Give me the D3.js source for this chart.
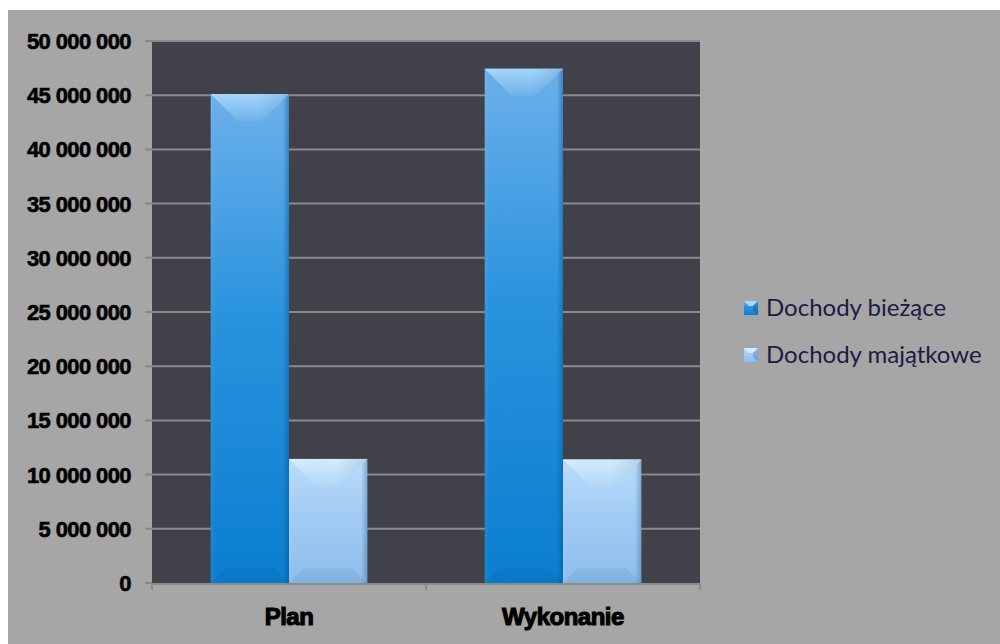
<!DOCTYPE html>
<html><head><meta charset="utf-8">
<script src="https://cdn.jsdelivr.net/npm/d3@7"></script>
<style>body{margin:0;background:#fff}svg{display:block}</style>
</head><body>
<svg id="c" width="1000" height="644"></svg>
<script>
const categories = ["Plan", "Wykonanie"];
const seriesNames = ["Dochody bieżące", "Dochody majątkowe"];
const dochodyBiezace = [45100000, 47450000];
const dochodyMajatkowe = [11450000, 11400000];
const yTicks = [0, 5000000, 10000000, 15000000, 20000000, 25000000, 30000000, 35000000, 40000000, 45000000, 50000000];

const svg = d3.select("#c");
svg.append("rect").attr("x", 8).attr("y", 10).attr("width", 992).attr("height", 634).attr("fill", "#a6a6a6");

const L = 152, R = 700, T = 41, B = 583;
const x0 = d3.scaleBand().domain(categories).range([L, R]).paddingInner(0).paddingOuter(0);
const y = d3.scaleLinear().domain([0, 50000000]).range([B, T]);
const series = [dochodyBiezace, dochodyMajatkowe];
const bw = x0.bandwidth() / 3.5;
const x1 = d3.scaleBand().domain([0, 1]).range([0, 2 * bw]);

const defs = svg.append("defs");
const palettes = [
  {top: "#6cb0ea", mid: "#2a93de", bot: "#0a7ecf", cap: ["#a8d8fc", "#70b3ea"], dark: "#05508a", light: "#ffffff"},
  {top: "#b9dbf9", mid: "#a2ccf4", bot: "#8dbdec", cap: ["#d6edfe", "#b4d8f8"], dark: "#3e6f9e", light: "#ffffff"}
];
palettes.forEach((p, i) => {
  const g = defs.append("linearGradient").attr("id", "body" + i).attr("x1", 0).attr("y1", 0).attr("x2", 0).attr("y2", 1);
  g.append("stop").attr("offset", "0%").attr("stop-color", p.top);
  g.append("stop").attr("offset", "45%").attr("stop-color", p.mid);
  g.append("stop").attr("offset", "100%").attr("stop-color", p.bot);
  const c = defs.append("linearGradient").attr("id", "cap" + i).attr("x1", 0).attr("y1", 0).attr("x2", 0).attr("y2", 1);
  c.append("stop").attr("offset", "0%").attr("stop-color", p.cap[0]);
  c.append("stop").attr("offset", "100%").attr("stop-color", p.cap[1]);
  const e = defs.append("linearGradient").attr("id", "edge" + i).attr("x1", 0).attr("y1", 0).attr("x2", 1).attr("y2", 0);
  e.append("stop").attr("offset", "0%").attr("stop-color", p.light).attr("stop-opacity", 0.06);
  e.append("stop").attr("offset", "6%").attr("stop-color", p.light).attr("stop-opacity", 0);
  e.append("stop").attr("offset", "92%").attr("stop-color", p.dark).attr("stop-opacity", 0);
  e.append("stop").attr("offset", "100%").attr("stop-color", p.dark).attr("stop-opacity", 0.45);
  const s = defs.append("linearGradient").attr("id", "shade" + i).attr("x1", 0).attr("y1", 0).attr("x2", 1).attr("y2", 0);
  s.append("stop").attr("offset", "0%").attr("stop-color", "#ffffff").attr("stop-opacity", 0.05);
  s.append("stop").attr("offset", "60%").attr("stop-color", p.dark).attr("stop-opacity", 0);
  s.append("stop").attr("offset", "100%").attr("stop-color", p.dark).attr("stop-opacity", 0.2);
});

// plot background
svg.append("rect").attr("x", L).attr("y", T).attr("width", R - L).attr("height", B - T).attr("fill", "#414149");

// gridlines
svg.append("g").selectAll("line").data(yTicks.filter(d => d > 0)).join("line")
  .attr("x1", L - 7).attr("x2", R).attr("y1", d => y(d)).attr("y2", d => y(d))
  .attr("stroke", "#8a8a8a").attr("stroke-width", 2);

// y axis ticks & labels
const fmt = d => d3.format(",")(d).replace(/,/g, " ");
svg.append("line").attr("x1", L - 7).attr("x2", L).attr("y1", B).attr("y2", B).attr("stroke", "#8a8a8a").attr("stroke-width", 2);
svg.append("g").selectAll("text").data(yTicks).join("text")
  .attr("x", 131).attr("y", d => y(d) + 8).attr("text-anchor", "end")
  .attr("font-family", "Liberation Sans, Arial, sans-serif").attr("font-weight", "bold")
  .attr("font-size", 22).attr("letter-spacing", -0.6)
  .attr("fill", "#000").attr("stroke", "#000").attr("stroke-width", 0.6)
  .text(fmt);

// bars
const d = 27;
categories.forEach((cat, ci) => {
  series.forEach((s, si) => {
    const bx = x0(cat) + (x0.bandwidth() - 2 * bw) / 2 + x1(si);
    const by = y(s[ci]);
    const bh = B - by;
    const g = svg.append("g");
    const dd = Math.min(d, bh / 2, bw / 2);
    const db = dd * 0.55;
    g.append("rect").attr("x", bx).attr("y", by).attr("width", bw).attr("height", bh).attr("fill", `url(#body${si})`);
    g.append("rect").attr("x", bx).attr("y", by).attr("width", bw).attr("height", bh).attr("fill", `url(#edge${si})`);
    // top bevel trapezoid
    g.append("polygon").attr("points", [[bx, by], [bx + bw, by], [bx + bw - dd, by + dd], [bx + dd, by + dd]].join(" "))
      .attr("fill", `url(#cap${si})`).attr("opacity", 0.95);
    g.append("polygon").attr("points", [[bx, by], [bx + bw, by], [bx + bw - dd, by + dd], [bx + dd, by + dd]].join(" "))
      .attr("fill", `url(#shade${si})`);
    // bottom bevel
    g.append("polygon").attr("points", [[bx, B], [bx + db, B - db], [bx + bw - db, B - db], [bx + bw, B]].join(" "))
      .attr("fill", palettes[si].dark).attr("opacity", 0.12);
  });
});

// x axis
svg.append("line").attr("x1", L).attr("x2", R).attr("y1", B + 1).attr("y2", B + 1).attr("stroke", "#8a8a8a").attr("stroke-width", 2);
svg.append("g").selectAll("line").data([L, x0("Wykonanie"), R]).join("line")
  .attr("x1", v => v).attr("x2", v => v).attr("y1", B).attr("y2", B + 7)
  .attr("stroke", "#8a8a8a").attr("stroke-width", 2);
svg.append("g").selectAll("text").data(categories).join("text")
  .attr("x", c => x0(c) + x0.bandwidth() / 2).attr("y", 625).attr("text-anchor", "middle")
  .attr("font-family", "Liberation Sans, Arial, sans-serif").attr("font-weight", "bold")
  .attr("font-size", 24).attr("letter-spacing", -0.5)
  .attr("fill", "#000").attr("stroke", "#000").attr("stroke-width", 1.1)
  .text(c => c);

// legend
const lg = svg.append("g");
seriesNames.forEach((n, i) => {
  const ly = 301 + i * 47;
  lg.append("rect").attr("x", 744).attr("y", ly).attr("width", 14).attr("height", 14).attr("fill", `url(#body${i})`);
  lg.append("polygon").attr("points", [[744, ly], [758, ly], [753, ly + 5], [749, ly + 5]].join(" ")).attr("fill", palettes[i].cap[0]);
  lg.append("polygon").attr("points", [[758, ly], [753, ly + 5], [753, ly + 9], [758, ly + 14]].join(" ")).attr("fill", palettes[i].dark).attr("opacity", 0.35);
  lg.append("text").attr("x", 766).attr("y", ly + 15).attr("font-family", "Lato, sans-serif")
    .attr("font-size", 24).attr("fill", "#1c1b45").text(n);
});
</script>
</body></html>
